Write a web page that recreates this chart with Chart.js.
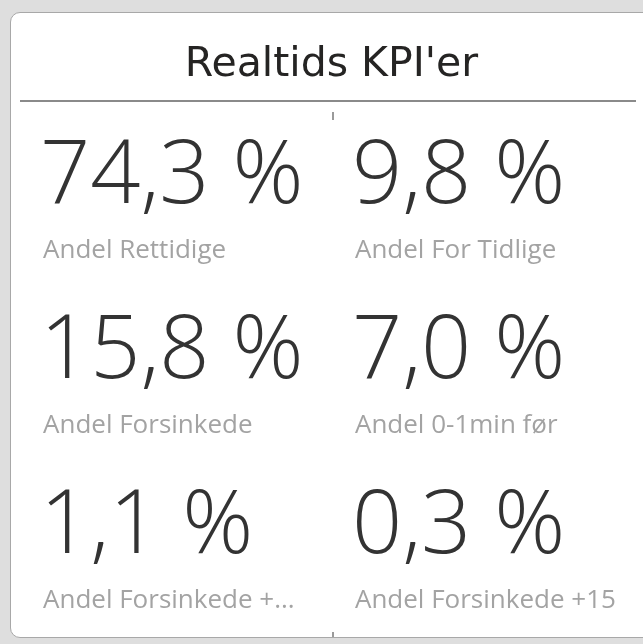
<!DOCTYPE html>
<html>
<head>
<meta charset="utf-8">
<script src="https://cdn.jsdelivr.net/npm/chart.js@4.4.1/dist/chart.umd.min.js"></script>
<style>
  html, body { margin: 0; padding: 0; background: #dedede; width: 643px; height: 644px; overflow: hidden; }
  #card { position: absolute; left: 10px; top: 12px; width: 645px; height: 626px; background: #ffffff;
          border: 1.5px solid #a8a8a8; border-radius: 10px; box-sizing: border-box; }
  #wrap { position: absolute; left: 0; top: 0; width: 643px; height: 644px; }
</style>
</head>
<body>
<div id="card"></div>
<div id="wrap"><canvas id="c" width="643" height="644"></canvas></div>
<script>
const chartTitle = "Realtids KPI'er";
const kpiLabels = ["Andel Rettidige", "Andel For Tidlige", "Andel Forsinkede", "Andel 0-1min før", "Andel Forsinkede +...", "Andel Forsinkede +15"];
const kpiValues = [74.3, 9.8, 15.8, 7.0, 1.1, 0.3];
const kpiColumns = [0, 1, 0, 1, 0, 1];
const kpiRows = [0, 0, 1, 1, 2, 2];

function fmt(v) { return v.toFixed(1).replace('.', ',') + ' %'; }

const points = kpiValues.map((v, i) => ({ x: kpiColumns[i], y: kpiRows[i], v: v, label: kpiLabels[i] }));

const kpiPlugin = {
  id: 'kpiText',
  beforeDatasetsDraw(chart) {
    const ctx = chart.ctx;
    ctx.save();
    ctx.strokeStyle = '#8a8a8a';
    ctx.lineWidth = 2;
    ctx.beginPath(); ctx.moveTo(20, 101); ctx.lineTo(636, 101); ctx.stroke();
    ctx.strokeStyle = '#9a9a9a';
    ctx.beginPath(); ctx.moveTo(333, 112); ctx.lineTo(333, 120); ctx.stroke();
    ctx.beginPath(); ctx.moveTo(333, 632); ctx.lineTo(333, 637); ctx.stroke();
    ctx.restore();
  },
  afterDatasetsDraw(chart) {
    const ctx = chart.ctx;
    const meta = chart.getDatasetMeta(0);
    const xs = chart.scales.x, ys = chart.scales.y;
    ctx.save();
    ctx.textAlign = 'left';
    ctx.textBaseline = 'alphabetic';
    meta.data.forEach((el, i) => {
      const p = points[i];
      const px = xs.getPixelForValue(p.x);
      const py = ys.getPixelForValue(p.y);
      ctx.fillStyle = '#333333';
      ctx.font = '300 88px "Open Sans", "Noto Sans", sans-serif';
      ctx.fillText(fmt(p.v), px - 4, py);
      ctx.fillStyle = '#a3a3a3';
      ctx.font = '400 26px "Open Sans", "Noto Sans", sans-serif';
      ctx.fillText(p.label, px - 1, py + 55);
    });
    ctx.restore();
  }
};

new Chart(document.getElementById('c'), {
  type: 'scatter',
  data: {
    datasets: [{ data: points, pointRadius: 0, pointHoverRadius: 0, showLine: false }]
  },
  options: {
    responsive: false,
    animation: false,
    events: [],
    layout: { autoPadding: false, padding: { left: 20, right: 0, top: 0, bottom: 91 } },
    scales: {
      x: { type: 'linear', min: -0.0769, max: 1.92, display: false },
      y: { type: 'linear', min: 0, max: 2, reverse: true, display: false }
    },
    plugins: {
      legend: { display: false },
      tooltip: { enabled: false },
      title: {
        display: true,
        text: chartTitle,
        color: '#252423',
        font: { family: '"DejaVu Sans"', size: 41, weight: '400', lineHeight: 1.2 },
        padding: { top: 41, bottom: 113 }
      }
    }
  },
  plugins: [kpiPlugin]
});
</script>
</body>
</html>
